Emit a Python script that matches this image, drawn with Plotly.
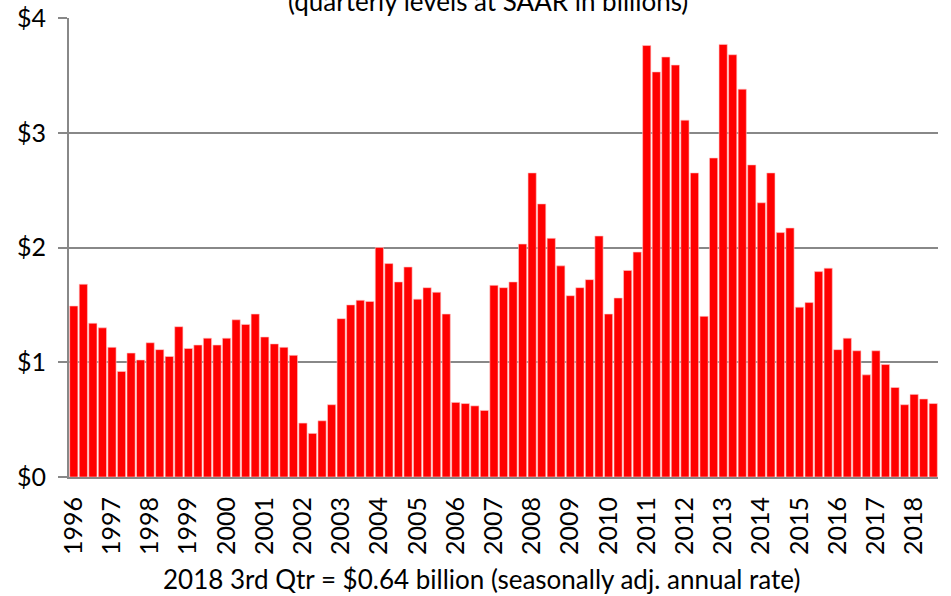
import plotly.graph_objects as go

years = list(range(1996, 2019))
values = [
    1.49, 1.68, 1.34, 1.30, 1.13, 0.92, 1.08, 1.02, 1.17, 1.11, 1.05, 1.31,
    1.12, 1.15, 1.21, 1.15, 1.21, 1.37, 1.33, 1.42, 1.22, 1.16, 1.13, 1.06,
    0.47, 0.38, 0.49, 0.63, 1.38, 1.50, 1.54, 1.53, 2.00, 1.86, 1.70, 1.83,
    1.55, 1.65, 1.61, 1.42, 0.65, 0.64, 0.62, 0.58, 1.67, 1.65, 1.70, 2.03,
    2.65, 2.38, 2.08, 1.84, 1.58, 1.65, 1.72, 2.10, 1.42, 1.56, 1.80, 1.96,
    3.76, 3.53, 3.66, 3.59, 3.11, 2.65, 1.40, 2.78, 3.77, 3.68, 3.38, 2.72,
    2.39, 2.65, 2.13, 2.17, 1.48, 1.52, 1.79, 1.82, 1.11, 1.21, 1.10, 0.89,
    1.10, 0.98, 0.78, 0.63, 0.72, 0.68, 0.64,
]
y_tick_vals = [0, 1, 2, 3, 4]
y_tick_text = ["$0", "$1", "$2", "$3", "$4"]
subtitle = "(quarterly levels at SAAR in billions)"
caption = "2018 3rd Qtr = $0.64 billion (seasonally adj. annual rate)"

x = list(range(len(values)))
FONT = "Lato"

fig = go.Figure(go.Bar(
    x=x, y=values,
    marker=dict(color="#FF0000", line=dict(color="#FFC8C8", width=0.6)),
    showlegend=False,
))

fig.update_layout(
    width=951, height=596,
    margin=dict(l=69, r=13, t=18, b=119),
    paper_bgcolor="white", plot_bgcolor="white",
    bargap=0.14,
    font=dict(family=FONT, size=25, color="black"),
    xaxis=dict(
        range=[-0.5, len(values) - 0.5],
        tickmode="array",
        tickvals=[4 * i for i in range(len(years))],
        ticktext=[str(yv) for yv in years],
        tickangle=-90,
        ticks="outside", ticklen=8, tickcolor="rgba(0,0,0,0)",
        showgrid=False, zeroline=False,
        showline=True, linecolor="#888888", linewidth=2,
        tickfont=dict(family=FONT, size=25),
        automargin=False,
    ),
    yaxis=dict(
        range=[0, 4],
        tickmode="array", tickvals=y_tick_vals, ticktext=y_tick_text,
        ticks="outside", ticklen=9, tickcolor="#888888", tickwidth=2,
        ticklabelstandoff=7,
        showgrid=True, gridcolor="#888888", gridwidth=2,
        zeroline=False,
        showline=True, linecolor="#888888", linewidth=2,
        tickfont=dict(family=FONT, size=25),
        automargin=False,
    ),
    annotations=[
        dict(text=subtitle, xref="paper", yref="paper", x=0.482, y=1,
             xanchor="center", yanchor="bottom", yshift=-1, showarrow=False,
             font=dict(family=FONT, size=26)),
        dict(text=caption, xref="paper", yref="paper", x=0.475, y=(477 - 579) / 459,
             xanchor="center", yanchor="middle", showarrow=False,
             font=dict(family=FONT, size=26)),
    ],
)

fig.write_html(
    "out.html",
    config={"displayModeBar": False},
    post_script="document.body.style.margin='0';document.body.style.overflow='hidden';",
)
